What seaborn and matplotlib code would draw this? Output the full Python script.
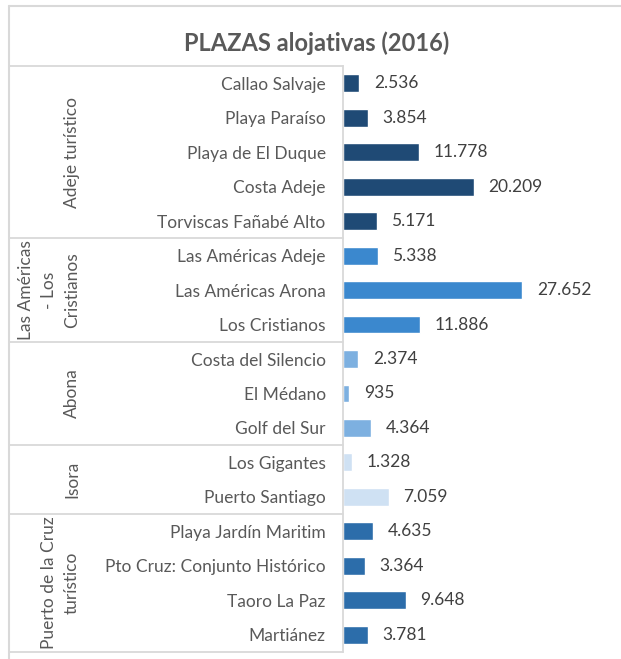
import matplotlib
matplotlib.use("Agg")
import matplotlib.pyplot as plt
import seaborn as sns
import pandas as pd
from matplotlib.lines import Line2D
from matplotlib.transforms import blended_transform_factory

# datos
zonas = ["Callao Salvaje", "Playa Paraíso", "Playa de El Duque", "Costa Adeje",
         "Torviscas Fañabé Alto", "Las Américas Adeje", "Las Américas Arona",
         "Los Cristianos", "Costa del Silencio", "El Médano", "Golf del Sur",
         "Los Gigantes", "Puerto Santiago", "Playa Jardín Maritim",
         "Pto Cruz: Conjunto Histórico", "Taoro La Paz", "Martiánez"]
plazas = [2536, 3854, 11778, 20209, 5171, 5338, 27652, 11886, 2374, 935, 4364,
          1328, 7059, 4635, 3364, 9648, 3781]
grupo_nombres = ["Adeje turístico", "Las Américas\n- Los\nCristianos", "Abona",
                 "Isora", "Puerto de la Cruz\nturístico"]
grupo_tamanos = [5, 3, 3, 2, 4]
colores = ["#1F4A75", "#3B88CE", "#7DB0E0", "#CFE1F3", "#2C6DAA"]

grupos = []
for nombre, n in zip(grupo_nombres, grupo_tamanos):
    grupos += [nombre] * n

df = pd.DataFrame({"zona": zonas, "plazas": plazas, "grupo": grupos})

sns.set_style("white")
plt.rcParams["font.family"] = ["Lato", "DejaVu Sans"]

W, H = 621, 659
fs = 12.5
fig = plt.figure(figsize=(W / 100, H / 100), dpi=100)
ax = fig.add_axes([343 / W, 1 - 652 / H, 262 / W, (652 - 66) / H])

sns.barplot(data=df, y="zona", x="plazas", hue="grupo", palette=colores,
            dodge=False, width=0.52, legend=False, ax=ax, saturation=1)

ax.set_xlim(0, 40430)
ax.set_ylim(len(zonas) - 0.5, -0.5)
ax.set_xlabel("")
ax.set_ylabel("")
ax.set_xticks([])
ax.tick_params(axis="y", length=0, pad=12.5, labelsize=fs, labelcolor="#595959")
for s in ["top", "right", "bottom"]:
    ax.spines[s].set_visible(False)
ax.spines["left"].set_color("#D9D9D9")
ax.spines["left"].set_linewidth(1.3)

# etiquetas de valor
for i, v in enumerate(plazas):
    ax.annotate(f"{v:,}".replace(",", "."), (v, i), xytext=(10.5, 0),
                textcoords="offset points", va="center", ha="left",
                fontsize=fs, color="#404040")

# separadores y nombres de grupo
trans_l = blended_transform_factory(ax.transAxes, ax.transData)
trans_f = blended_transform_factory(fig.transFigure, ax.transData)
x_borde = (9 - 343) / 262
inicio = -0.5
ax.plot([x_borde, 0], [inicio, inicio], transform=trans_l, color="#D9D9D9",
        lw=1.3, clip_on=False)
for nombre, n in zip(grupo_nombres, grupo_tamanos):
    fin = inicio + n
    ax.plot([x_borde, 0], [fin, fin], transform=trans_l, color="#D9D9D9",
            lw=1.3, clip_on=False)
    ax.text(80 / W, (inicio + fin) / 2, nombre, transform=trans_f, rotation=90,
            ha="right", va="center", multialignment="center",
            fontsize=fs, color="#595959", linespacing=1.55)
    inicio = fin

# marco del gráfico
fig.add_artist(Line2D([9 / W, 9 / W], [0, 1 - 6 / H], color="#D9D9D9", lw=1.5))
fig.add_artist(Line2D([9 / W, 1], [1 - 6 / H, 1 - 6 / H], color="#D9D9D9", lw=1.5))

fig.text(317 / W, 1 - 43 / H, "PLAZAS alojativas (2016)", ha="center",
         va="center", fontsize=17, fontweight="bold", color="#595959")

fig.savefig("out.png", dpi=100)
